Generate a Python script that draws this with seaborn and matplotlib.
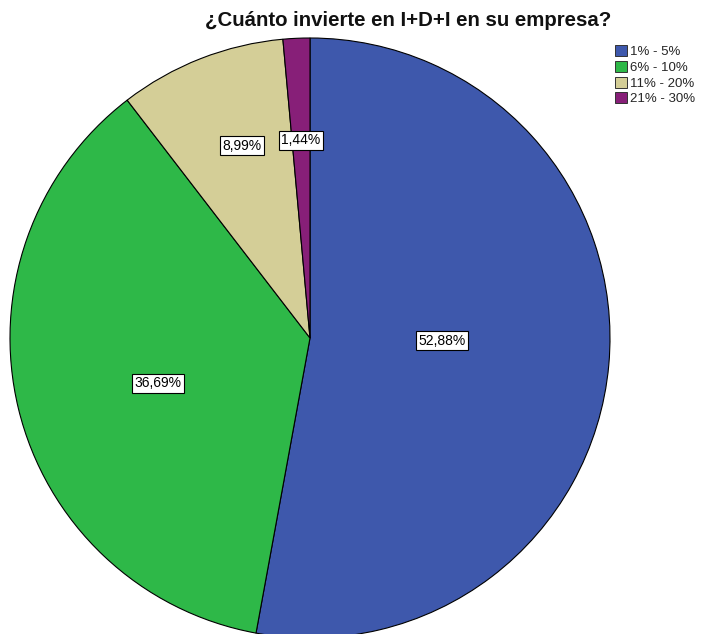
import numpy as np
import matplotlib
matplotlib.use("Agg")
import matplotlib.pyplot as plt
import seaborn as sns

categories = ["1% - 5%", "6% - 10%", "11% - 20%", "21% - 30%"]
values = [52.88, 36.69, 8.99, 1.44]
labels = ["52,88%", "36,69%", "8,99%", "1,44%"]
colors = ["#3E58AC", "#2EB848", "#D4CE97", "#871F78"]
title = "¿Cuánto invierte en I+D+I en su empresa?"

sns.set_theme(style="white")
plt.rcParams['font.family'] = ['Liberation Sans', 'DejaVu Sans']

W, H = 705, 634
fig = plt.figure(figsize=(W / 100, H / 100), dpi=100)
cx, cy, R = 310, 634 - 338, 300
ax = fig.add_axes([(cx - R) / W, (cy - R) / H, 2 * R / W, 2 * R / H])

pal = sns.color_palette(colors)
wedges, _ = ax.pie(values, colors=pal, startangle=90, counterclock=False,
                   wedgeprops=dict(edgecolor="black", linewidth=0.8),
                   radius=1.0)
ax.set_xlim(-1, 1)
ax.set_ylim(-1, 1)
ax.set_aspect("equal")
ax.axis("off")

rfrac = [0.44, 0.53, 0.68, 0.66]
angoff = [4, 3, -2, 0]
for w, lab, rf, da in zip(wedges, labels, rfrac, angoff):
    ang = np.deg2rad((w.theta1 + w.theta2) / 2 + da)
    ax.text(rf * np.cos(ang), rf * np.sin(ang), lab, ha="center", va="center",
            fontsize=10, color="black",
            bbox=dict(boxstyle="square,pad=0.18", facecolor="white",
                      edgecolor="black", linewidth=0.8))

fig.text(408 / W, 1 - 20 / H, title, ha="center", va="center",
         fontsize=14.7, fontweight="bold", color="#111111")

handles = [plt.Rectangle((0, 0), 1, 1, facecolor=c, edgecolor="#333333", linewidth=0.7)
           for c in pal]
fig.legend(handles, categories, loc="upper left",
           bbox_to_anchor=(606 / W, 1 - 36 / H), frameon=False,
           fontsize=9.5, handlelength=0.9, handleheight=0.9,
           handletextpad=0.25, labelspacing=0.2, borderpad=0.2)

fig.savefig("out.png", dpi=100)
